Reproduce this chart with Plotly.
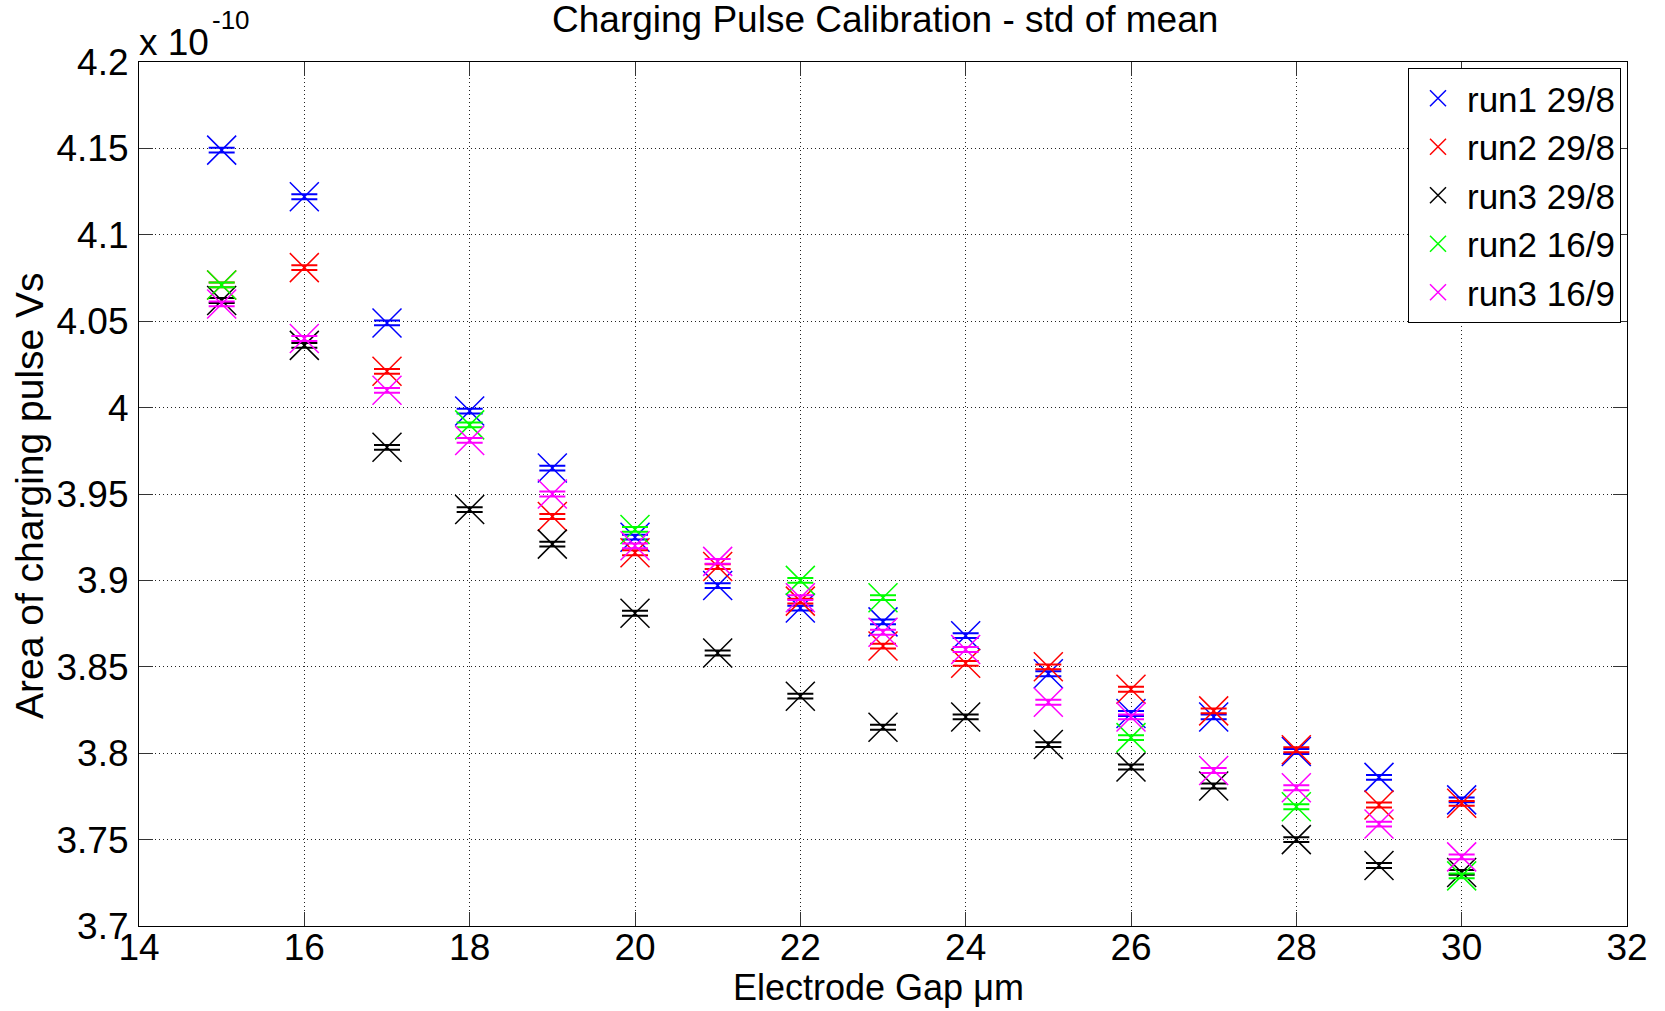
import plotly.graph_objects as go

# Electrode gap (um)
gap_um = [15, 16, 17, 18, 19, 20, 21, 22, 23, 24, 25, 26, 27, 28, 29, 30]

# Area of charging pulse, in units of 1e-10 Vs
run1_29_8 = [4.149, 4.122, 4.049, 3.998, 3.965, 3.925, 3.897, 3.884, 3.876, 3.868, 3.846, 3.823, 3.821, 3.801, 3.786, 3.773]
run2_29_8 = [4.071, 4.081, 4.021, None, 3.937, 3.916, 3.908, 3.888, 3.862, 3.852, 3.850, 3.837, 3.8245, 3.802, 3.770, 3.771]
run3_29_8 = [4.062, 4.036, 3.977, 3.941, 3.921, 3.881, 3.858, 3.833, 3.815, 3.821, 3.805, 3.792, 3.781, 3.750, 3.735, 3.731]
run2_16_9 = [4.071, None, None, 3.990, None, 3.9295, None, 3.900, 3.890, None, None, 3.809, None, 3.769, None, 3.729]
run3_16_9 = [4.060, 4.040, 4.010, 3.981, 3.950, 3.920, 3.911, 3.890, 3.870, 3.860, 3.8295, 3.821, 3.790, 3.780, 3.759, 3.740]

# standard error of the mean (same units)
std_of_mean = 0.0014

series_names = ["run1 29/8", "run2 29/8", "run3 29/8", "run2 16/9", "run3 16/9"]
series_values = [run1_29_8, run2_29_8, run3_29_8, run2_16_9, run3_16_9]
series_colors = ["#0000ff", "#ff0000", "#000000", "#00ff00", "#ff00ff"]

y_tickvals = [3.7, 3.75, 3.8, 3.85, 3.9, 3.95, 4.0, 4.05, 4.1, 4.15, 4.2]
y_ticktext = ["3.7", "3.75", "3.8", "3.85", "3.9", "3.95", "4", "4.05", "4.1", "4.15", "4.2"]
x_tickvals = [14, 16, 18, 20, 22, 24, 26, 28, 30, 32]

FONT = "Liberation Sans, Arial, sans-serif"
FS = 37

fig = go.Figure()
for name, vals, col in zip(series_names, series_values, series_colors):
    fig.add_trace(go.Scatter(
        x=gap_um, y=vals, name=name, mode="markers",
        marker=dict(symbol="x-thin", size=29, color=col,
                    line=dict(color=col, width=1.5)),
        error_y=dict(type="constant", value=std_of_mean, color=col,
                     thickness=2, width=13),
    ))

L, R, T, B = 139, 38, 62, 85
W, H = 1665, 1011
pw, ph = W - L - R, H - T - B

def px_x(px):
    return (px - L) / pw

def px_y(py):
    return (H - B - py) / ph

axis_common = dict(
    showline=True, linecolor="black", linewidth=1.2, mirror="allticks",
    ticks="inside", ticklen=14, tickwidth=1, tickcolor="#333",
    showgrid=True, gridcolor="#222", gridwidth=1, griddash="1px,3px",
    zeroline=False,
    tickfont=dict(family=FONT, size=FS, color="black"),
)

fig.update_layout(
    width=W, height=H,
    margin=dict(l=L, r=R, t=T, b=B),
    paper_bgcolor="white", plot_bgcolor="white",
    showlegend=True,
    legend=dict(
        x=px_x(1621), y=px_y(68), xanchor="right", yanchor="top",
        bgcolor="white", bordercolor="black", borderwidth=1,
        font=dict(family=FONT, size=35, color="black"),
        tracegroupgap=0, itemwidth=48,
    ),
    xaxis=dict(range=[14, 32], tickvals=x_tickvals, ticklabelstandoff=-12, **axis_common),
    yaxis=dict(range=[3.7, 4.2], tickvals=y_tickvals, ticktext=y_ticktext,
               ticklabelstandoff=2, **axis_common),
    annotations=[
        dict(text="Charging Pulse Calibration - std of mean", xref="paper", yref="paper",
             x=px_x(885), y=px_y(20), xanchor="center", yanchor="middle", showarrow=False,
             font=dict(family=FONT, size=FS, color="black")),
        dict(text="Electrode Gap μm", xref="paper", yref="paper",
             x=px_x(878), y=px_y(987), xanchor="center", yanchor="middle", showarrow=False,
             font=dict(family=FONT, size=36, color="black")),
        dict(text="Area of charging pulse Vs", xref="paper", yref="paper",
             x=px_x(29), y=px_y(496), xanchor="center", yanchor="middle", showarrow=False,
             textangle=-90, font=dict(family=FONT, size=39, color="black")),
        dict(text="x 10", xref="paper", yref="paper",
             x=px_x(137), y=px_y(42), xanchor="left", yanchor="middle", showarrow=False,
             font=dict(family=FONT, size=FS, color="black")),
        dict(text="-10", xref="paper", yref="paper",
             x=px_x(210), y=px_y(20), xanchor="left", yanchor="middle", showarrow=False,
             font=dict(family=FONT, size=26, color="black")),
    ],
)

fig.write_html("out.html")
